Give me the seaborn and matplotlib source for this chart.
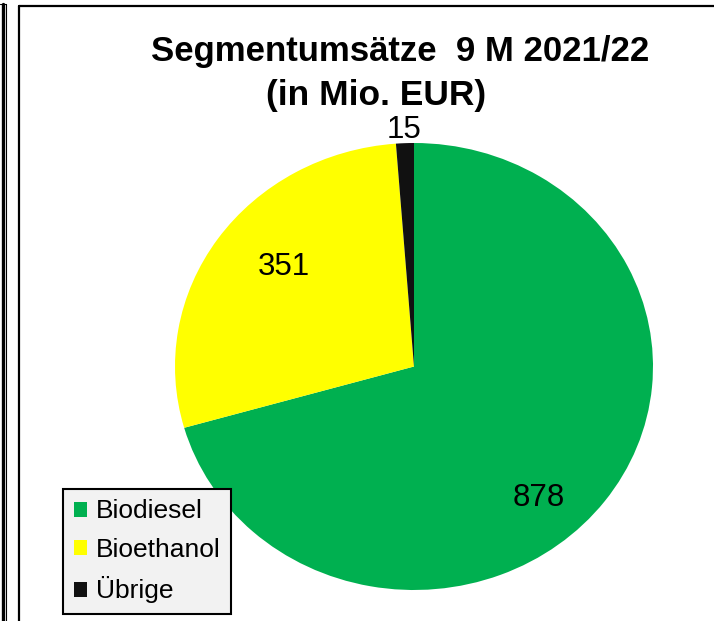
import matplotlib
matplotlib.use("Agg")
import matplotlib.pyplot as plt
from matplotlib.lines import Line2D
from matplotlib.patches import Patch
import numpy as np
import seaborn as sns

# Data
categories = ["Biodiesel", "Bioethanol", "Übrige"]
values = [878, 351, 15]
colors = ["#00B050", "#FFFF00", "#111111"]
title_line1 = "Segmentumsätze  9 M 2021/22"
title_line2 = "(in Mio. EUR)"

sns.set_theme(style="white")
plt.rcParams["font.family"] = ["Liberation Sans", "DejaVu Sans"]
plt.rcParams["text.color"] = "black"

W, H = 714, 621
fig = plt.figure(figsize=(W / 100, H / 100), dpi=100)
fig.patch.set_facecolor("white")

# pie axes (slightly elliptical as in the reference)
left, right, top, bottom = 175, 653, 143, 590
ax = fig.add_axes([left / W, 1 - bottom / H, (right - left) / W, (bottom - top) / H])
ax.axis("off")

wedges, _ = ax.pie(values, colors=sns.color_palette(colors), startangle=90,
                   counterclock=False, radius=1.0, center=(0, 0),
                   wedgeprops=dict(linewidth=0))
ax.set_xlim(-1, 1)
ax.set_ylim(-1, 1)
ax.set_aspect("auto")

# value labels (radius / angle offsets relative to wedge mid-angles)
label_r = [0.78, 0.71, 1.07]
label_dang = [-11, -5, 0]
for w, v, r, da in zip(wedges, values, label_r, label_dang):
    mid = np.deg2rad((w.theta1 + w.theta2) / 2 + da)
    ax.text(r * np.cos(mid), r * np.sin(mid) - 0.01, str(v), ha="center", va="center",
            fontsize=22.5, color="black")

# titles
fig.text(400 / W, 1 - 52 / H, title_line1, ha="center", va="center",
         fontsize=25, fontweight="bold", color="black")
fig.text(376 / W, 1 - 95 / H, title_line2, ha="center", va="center",
         fontsize=25.5, fontweight="bold", color="black")

# legend
handles = [Patch(facecolor=c, edgecolor="none") for c in colors]
leg = fig.legend(handles, categories, loc="lower left",
                 bbox_to_anchor=(63 / W, 1 - 614 / H), bbox_transform=fig.transFigure,
                 fontsize=19, frameon=True, fancybox=False, borderpad=0.4,
                 handlelength=0.5, handleheight=0.5, handletextpad=0.35,
                 labelspacing=0.55, borderaxespad=0, labelcolor="black")
leg.get_frame().set_facecolor("#F2F2F2")
leg.get_frame().set_edgecolor("black")
leg.get_frame().set_linewidth(1.5)
leg.get_frame().set_alpha(1)

# decorative frame lines
def fx(x):
    return x / W

def fy(y):
    return 1 - y / H

fig.add_artist(Line2D([fx(19), fx(19)], [fy(6), fy(621)], color="black", lw=1.6))
fig.add_artist(Line2D([fx(19), fx(714)], [fy(6), fy(6)], color="black", lw=1.6))
fig.add_artist(Line2D([fx(2.5), fx(2.5)], [fy(4), fy(621)], color="black", lw=2.4))
fig.add_artist(Line2D([fx(6), fx(6)], [fy(4), fy(621)], color="black", lw=0.8))
fig.add_artist(Line2D([fx(0), fx(6)], [fy(4), fy(4)], color="black", lw=0.8))

fig.savefig("out.png", dpi=100, facecolor="white")
